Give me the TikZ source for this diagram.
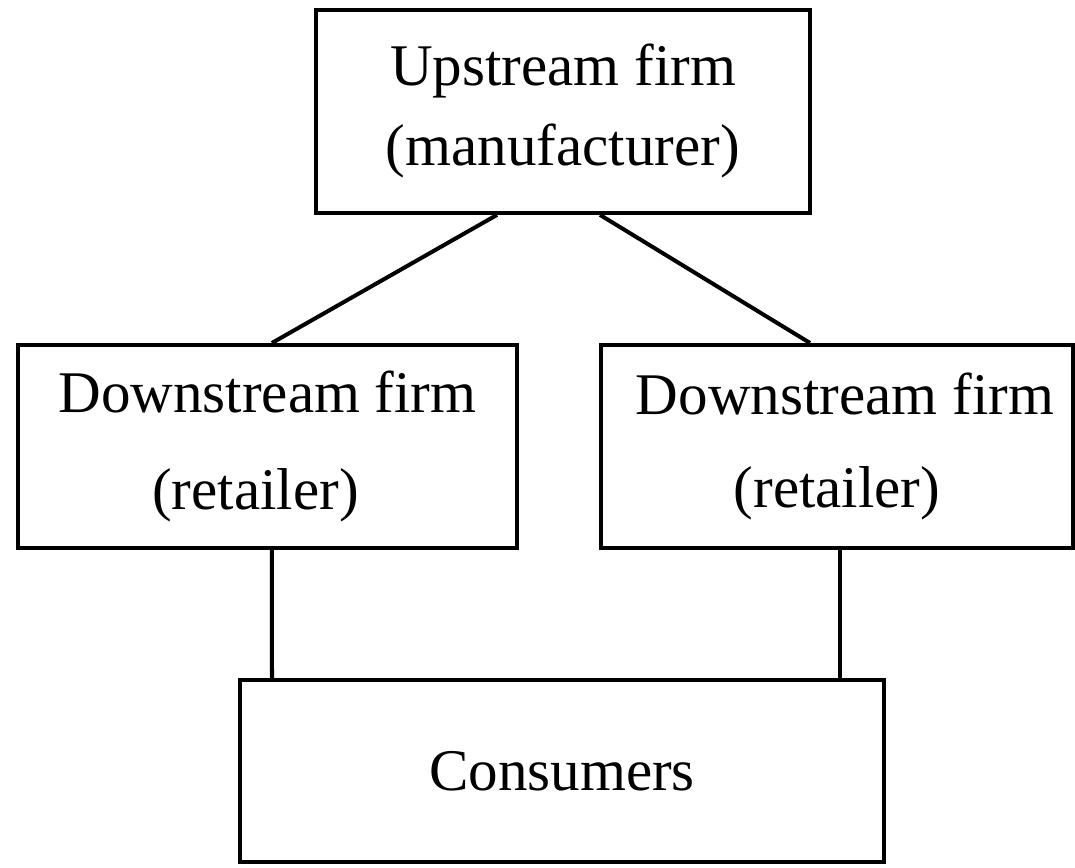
\documentclass[tikz,border=0pt]{standalone}
\usepackage{fontspec}
\setmainfont{Liberation Serif}
\usetikzlibrary{calc}

\begin{document}
\begin{tikzpicture}[
firm/.style={draw, line width=2.85pt, align=center, inner sep=0pt,
  minimum height=5.075cm, font=\fontsize{42}{57}\selectfont},
link/.style={line width=2.85pt}]

\useasboundingbox (0, 0) rectangle (26.875, 21.675);

\node[firm, minimum width=12.35cm] (up) at (14.075, 18.89) {Upstream firm\\(manufacturer)};
\node[firm, minimum width=12.475cm] (left) at (6.6875, 10.5125) {Downstream firm\\[0.4cm](retailer)\hspace*{0.6cm}};
\node[firm, minimum width=11.8cm] (right) at (20.925, 10.5125) {\hspace*{0.4cm}Downstream firm\\[0.3cm](retailer)};
\node[firm, minimum width=16.1cm, minimum height=4.55cm] (cons) at (14.05, 2.4) {Consumers};

% upstream to retailers
\draw[link] ($(up.south)+(-1.65, 0)$) -- ($(left.north)+(0.11, 0)$);
\draw[link] ($(up.south)+(0.925, 0)$) -- ($(right.north)+(-0.675, 0)$);

% retailers to consumers
\draw[link] ($(left.south)+(0.11, 0)$) -- ($(cons.north)+(-7.25, 0)$);
\draw[link] ($(right.south)+(0.075, 0)$) -- ($(cons.north)+(6.95, 0)$);

\end{tikzpicture}
\end{document}
